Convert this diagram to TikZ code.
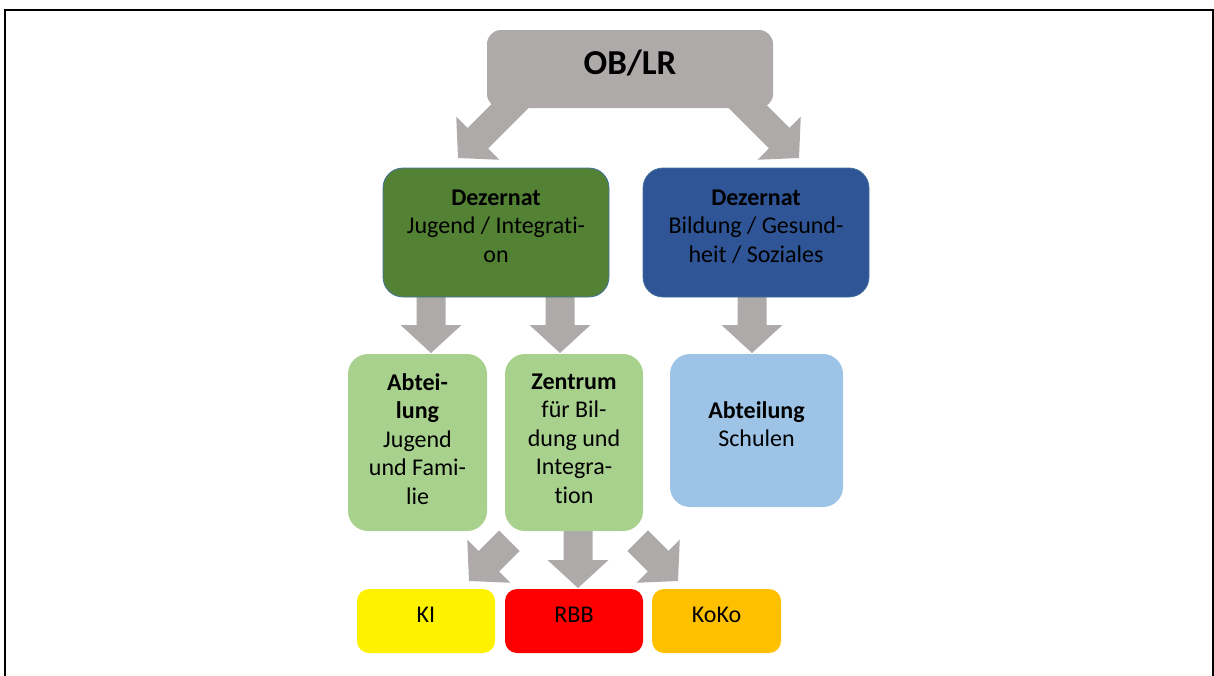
\documentclass[tikz,border=0pt]{standalone}
\usepackage{fontspec}
\setmainfont{Carlito}[Ligatures=NoCommon]
\definecolor{arrowgray}{HTML}{AEAAAA}
\definecolor{dezgreen}{HTML}{548235}
\definecolor{dezblue}{HTML}{2F5597}
\definecolor{lightgreen}{HTML}{A9D18E}
\definecolor{lightblue}{HTML}{9DC3E6}
\definecolor{koko}{HTML}{FFC000}
\definecolor{edgeblue}{HTML}{41719C}
\tikzset{
  % block arrow pointing down, tip at the origin, shaft of length #1
  pics/blockarrow/.style={code={
    \fill[arrowgray] (-14.5,-#1) -- (14.5,-#1) -- (14.5,-28) -- (30.5,-28)
      -- (0,0) -- (-30.5,-28) -- (-14.5,-28) -- cycle;}},
  boxbase/.style={inner sep=0pt, outer sep=0pt},
  darkbox/.style={boxbase, rounded corners=20, draw=edgeblue, line width=0.8pt,
    minimum width=226, minimum height=129},
  lightbox/.style={boxbase, rounded corners=20},
  leafbox/.style={boxbase, rounded corners=12, minimum height=64},
  lines/.style={align=center, inner sep=0pt, anchor=north,
    font=\fontsize{24}{28.5}\selectfont},
  oneline/.style={inner sep=0pt, anchor=base, font=\fontsize{24}{28.5}\selectfont},
}
\begin{document}
\begin{tikzpicture}[x=1pt,y=-1pt]
\useasboundingbox (0,0) rectangle (1214,675);

% arrow tips
\coordinate (t-obdj) at (458,158);
\coordinate (t-obdb) at (799,158);
\coordinate (t-djaj) at (431,353);
\coordinate (t-djzk) at (560,353);
\coordinate (t-dbas) at (752,353);
\coordinate (t-zkki) at (469,581);
\coordinate (t-zkrbb) at (578,588);
\coordinate (t-zkkoko) at (678,581);

% block arrows (drawn below the boxes)
\pic[transform shape, rotate=-45] at (t-obdj) {blockarrow=90};
\pic[transform shape, rotate=45] at (t-obdb) {blockarrow=90};
\pic at (t-djaj) {blockarrow=62};
\pic at (t-djzk) {blockarrow=62};
\pic at (t-dbas) {blockarrow=62};
\pic[transform shape, rotate=-45] at (t-zkki) {blockarrow=57};
\pic at (t-zkrbb) {blockarrow=62};
\pic[transform shape, rotate=45] at (t-zkkoko) {blockarrow=57};

% top box
\node[boxbase, fill=arrowgray, rounded corners=14, minimum width=286, minimum height=78] (ob) at (630,69) {};
\node[inner sep=0pt, anchor=base, font=\fontsize{35}{42}\selectfont\bfseries] (ob-t) at (630,74) {OB/LR};

% Dezernate
\node[darkbox, fill=dezgreen] (dj) at (496,232.5) {};
\node[lines] (dj-t) at (496,185) {\strut\textbf{Dezernat}\\Jugend / Integrati-\\on};
\node[darkbox, fill=dezblue] (db) at (756,232.5) {};
\node[lines] (db-t) at (756,185) {\strut\textbf{Dezernat}\\Bildung / Gesund-\\heit / Soziales};

% Abteilungen
\node[lightbox, fill=lightgreen, minimum width=139, minimum height=177] (aj) at (417.5,442.5) {};
\node[lines] (aj-t) at (417.5,370) {\strut\textbf{Abtei-}\\\textbf{lung}\\Jugend\\und Fami-\\lie};
\node[lightbox, fill=lightgreen, minimum width=138, minimum height=177] (zk) at (574,442.5) {};
\node[lines] (zk-t) at (574,369) {\strut\textbf{Zentrum}\\für Bil-\\dung und\\Integra-\\tion};
\node[lightbox, fill=lightblue, minimum width=173, minimum height=153] (as) at (756.5,430.5) {};
\node[lines] (as-t) at (756.5,398) {\strut\textbf{Abteilung}\\Schulen};

% leaf boxes
\node[leafbox, fill=yellow, minimum width=138] (ki) at (426,621) {};
\node[oneline] (ki-t) at (426,622) {KI};
\node[leafbox, fill=red, minimum width=138] (rbb) at (574,621) {};
\node[oneline] (rbb-t) at (574,622) {RBB};
\node[leafbox, fill=koko, minimum width=129] (kk) at (716.5,621) {};
\node[oneline] (kk-t) at (716.5,622) {KoKo};

% outer frame
\draw[line width=2pt] (5,680) -- (5,10) -- (1212.5,10) -- (1212.5,680);
\end{tikzpicture}
\end{document}
